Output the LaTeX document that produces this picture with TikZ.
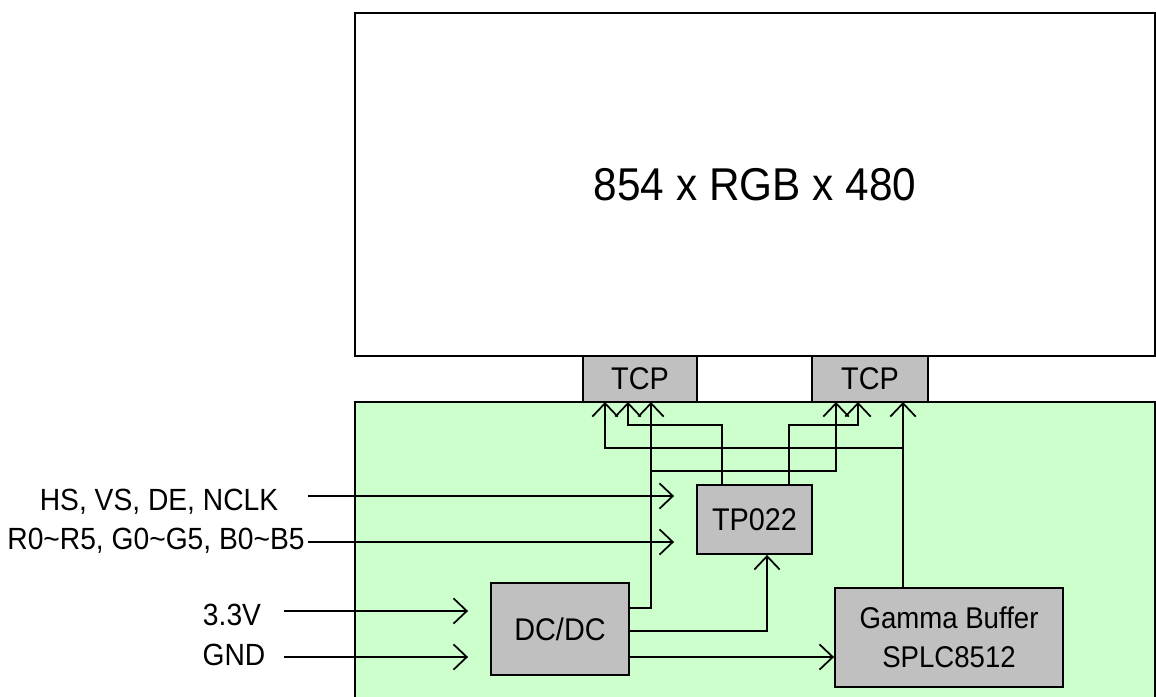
\documentclass[tikz,border=0pt]{standalone}
\usepackage{fontspec}
\setmainfont{Liberation Sans}[FakeStretch=0.92]
\usetikzlibrary{arrows.meta}
\definecolor{lcdgreen}{HTML}{CCFFCC}
\definecolor{chipgray}{HTML}{C0C0C0}

\begin{document}
\begin{tikzpicture}[x=0.75pt, y=-0.75pt, line width=1.4pt,
  >={Straight Barb[length=10pt, width=19pt]},
  chip/.style={draw=black, fill=chipgray, inner sep=0pt, align=center,
    font=\fontsize{23.5}{29.25}\selectfont},
  sig/.style={->, line width=1.3pt},
  lbl/.style={anchor=base, inner sep=0pt, font=\fontsize{23}{29.25}\selectfont}]

\useasboundingbox (0,0) rectangle (1156,696);

% Driver board
\filldraw[fill=lcdgreen, draw=black] (355,402) rectangle (1155,710);

% Panel and TCPs
\node[draw=black, fill=white, inner sep=0pt, minimum width=600pt, minimum height=257.25pt,
      font=\fontsize{34.5}{40}\selectfont] (lcd) at (755,184.5) {854 x RGB x 480};
\node[chip, minimum width=85.5pt, minimum height=34.5pt] (t1) at (640,379) {TCP};
\node[chip, minimum width=87pt, minimum height=34.5pt] (t2) at (870,379) {TCP};

% --- Chips on the board ---
\node[chip, minimum width=86.25pt, minimum height=51.75pt] (tp) at (754.5,519.5) {TP022};
\node[chip, minimum width=103.5pt, minimum height=69pt] (dc) at (560,629) {DC/DC};
\node[chip, minimum width=171pt, minimum height=74.25pt,
      font=\fontsize{22.5}{29.25}\selectfont] (gm) at (949,637.5)
  {Gamma Buffer\\SPLC8512};

% Input labels
\node[lbl] (hslbl) at (159,510) {HS, VS, DE, NCLK};
\node[lbl] (rgblbl) at (156,549) {R0\textasciitilde R5, G0\textasciitilde G5, B0\textasciitilde B5};
\node[lbl] (vlbl) at (232,625) {3.3V};
\node[lbl] (gndlbl) at (234,665) {GND};

\coordinate (hsin) at (308,496);
\coordinate (rgbin) at (308,542);
\coordinate (vin) at (284,611);
\coordinate (gndin) at (284,657);

% TCP pins
\coordinate (t1a) at (605,402);
\coordinate (t1b) at (628,402);
\coordinate (t1c) at (651,402);
\coordinate (t2a) at (836,402);
\coordinate (t2b) at (858,402);
\coordinate (t2c) at (903,402);

% --- Connections ---
\draw[sig, shorten >=16.5pt] (hsin) -- (hsin -| tp.west);
\draw[sig, shorten >=16.5pt] (rgbin) -- (rgbin -| tp.west);
\draw[sig, shorten >=16.5pt] (vin) -- (vin -| dc.west);
\draw[sig, shorten >=16.5pt] (gndin) -- (gndin -| dc.west);

% DC/DC outputs
\draw[sig] (dc.east |- 0,608) -| (t1c);
\draw[sig] (t1c |- 0,471) -| (t2a);
\draw[sig] (dc.east |- 0,631) -| (767,0 |- tp.south);
\draw[sig] (dc.east |- gndin) -- (gm.west |- gndin);

% TP022 to the TCPs
\draw[sig] (722,0 |- tp.north) -- (722,425) -| (t1b);
\draw[sig] (789,0 |- tp.north) -- (789,425) -| (t2b);

% Gamma buffer to the TCPs
\draw[sig] (gm.north -| t2c) -- (t2c);
\draw[sig] (t2c |- 0,448) -| (t1a);

\end{tikzpicture}
\end{document}
